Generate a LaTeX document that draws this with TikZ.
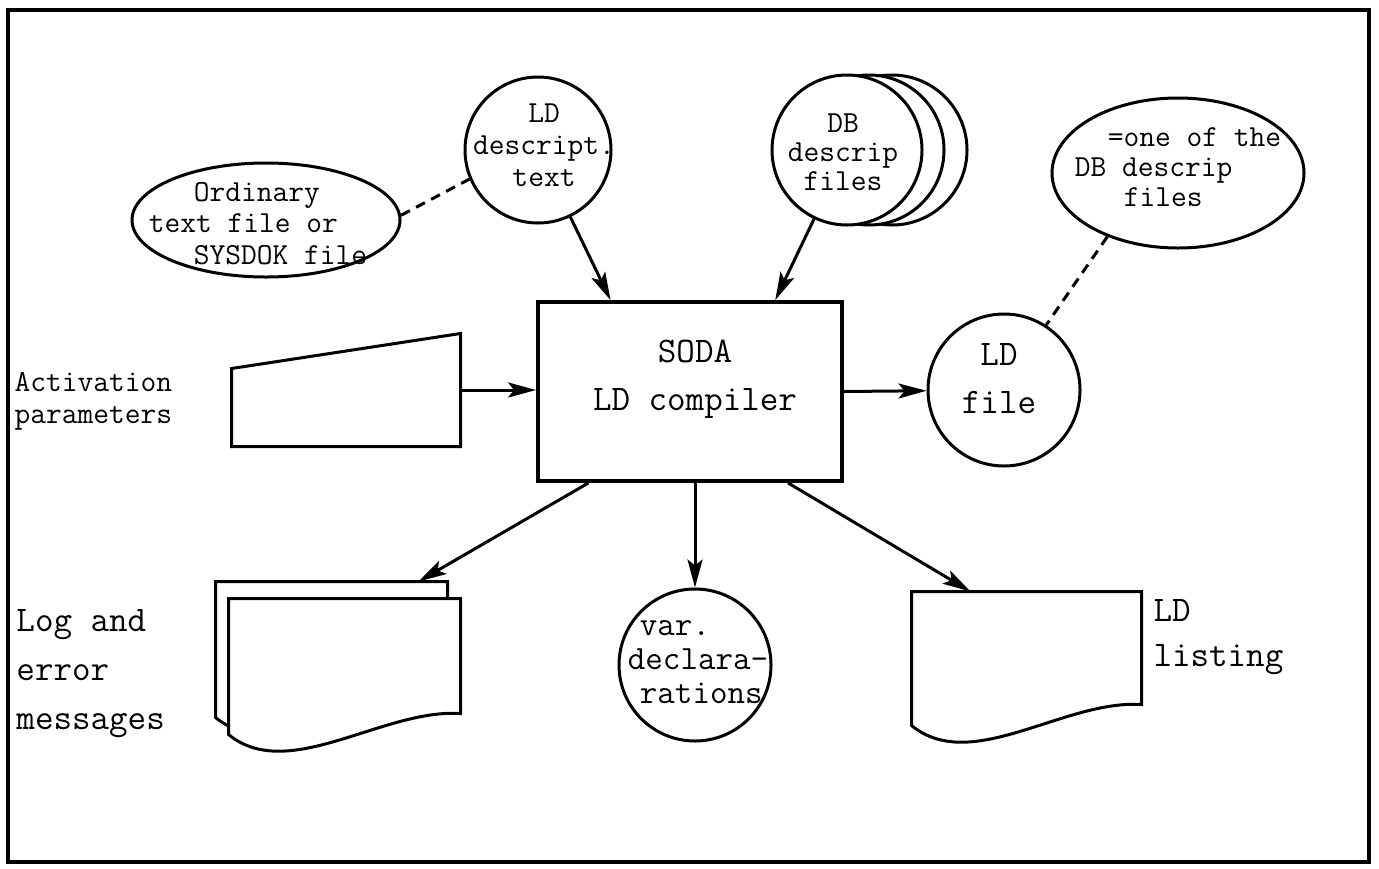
\documentclass[tikz,border=0pt]{standalone}
\usepackage{fontspec}
\usetikzlibrary{arrows.meta,positioning,shapes.geometric}
\newcommand{\docpage}[1]{%
  \draw[fill=white] (#1.north west) -- (#1.north east) -- (#1.south east)
    .. controls +(-78,-5) and +(60,49) .. ([yshift=-10.5pt]#1.south west)
    -- cycle;}

\begin{document}
\begin{tikzpicture}[x=0.5pt, y=-0.5pt, line width=1.5pt,
  bigtext/.style={font=\ttfamily\fontsize{18}{#1}\selectfont},
  bigtext/.default=24,
  smalltext/.style={font=\ttfamily\fontsize{15.3}{#1}\selectfont},
  smalltext/.default=16,
  disc/.style={circle, draw, fill=white, inner sep=0pt},
  oval/.style={ellipse, draw, fill=white, inner sep=0pt},
  page/.style={rectangle, inner sep=0pt, minimum width=114.5pt,
    minimum height=56pt},
  arr/.style={-{Stealth[length=14pt,width=7.5pt,inset=3pt]}},
  link/.style={dash pattern=on 5pt off 3.5pt}]
\useasboundingbox (0,0) rectangle (1379,868);
\draw[line width=1.6pt] (8,10) rectangle (1369,862);

\node[draw, line width=1.9pt, inner sep=0pt, minimum width=152pt,
  minimum height=89.5pt,
  label={[bigtext, align=center, xshift=2.5pt, yshift=6.25pt]center:{SODA\\LD compiler}}]
  (box) at (690,391.5) {};

\node[disc, minimum size=73pt,
  label={[smalltext, align=center, xshift=3pt, yshift=2.5pt]center:{LD\\descript.\\text}}]
  (ldtext) at (538,150) {};
\node[oval, minimum width=134pt, minimum height=57pt,
  label={[smalltext=15.75, align=left, xshift=-4pt, yshift=-1.75pt]center:{\hspace*{22.5pt}Ordinary\\text file or\\\hspace*{22.5pt}SYSDOK file}}]
  (ord) at (266,220) {};

\node[disc, minimum size=75pt] (dbback2) at (892,150) {};
\node[disc, minimum size=75pt] (dbback1) at (869,150) {};
\node[disc, minimum size=75pt,
  label={[smalltext=14.5, align=center, xshift=-2pt, yshift=-1pt]center:{DB\\descrip\\files}}]
  (dbfiles) at (847,150) {};

\node[oval, minimum width=126pt, minimum height=75pt,
  label={[smalltext=15, align=left, yshift=3pt]center:{\hspace*{16.5pt}=one of the\\DB descrip\\\hspace*{24.5pt}files}}]
  (oneof) at (1178,173) {};

\node[disc, minimum size=76pt,
  label={[bigtext, align=center, xshift=-2.5pt, yshift=5.5pt]center:{LD\\file}}]
  (ldfile) at (1004,390) {};

\node[rectangle, inner sep=0pt, minimum width=113pt, minimum height=55pt]
  (actin) at (346,390) {};
\draw (actin.south west) -- (actin.south east) -- (actin.north east)
  -- ([yshift=-17.5pt]actin.north west) -- cycle;
\node[smalltext, align=left, anchor=west, inner sep=0pt] (actlabel)
  at (13,401) {Activation\\parameters};

\node[page] (logback) at (331.5,639) {};
\node[page] (logfront) at (344.5,656) {};
\docpage{logback}
\docpage{logfront}
\node[bigtext=24.5, align=left, anchor=west, inner sep=0pt] (loglabel)
  at (15,674) {Log and\\error\\messages};

\node[disc, minimum size=76pt,
  label={[font=\ttfamily\fontsize{17}{17}\selectfont, align=left, xshift=1.5pt, yshift=1.25pt]center:{\hspace*{6pt}var.\\declara-\\\hspace*{6pt}rations}}]
  (var) at (695,665) {};

\node[page, minimum width=113.5pt, minimum height=55pt] (listing)
  at (1026.5,648) {};
\docpage{listing}
\node[bigtext=22.5, align=left, anchor=west, inner sep=0pt] (listlabel)
  at (1152,637.5) {LD\\listing};

\draw[arr] (ldtext) -- (box.131);
\draw[arr] (dbfiles) -- (box.47);
\draw[arr] (actin.east) -- (actin.east -| box.west);
\draw[arr] (box.east) -- (ldfile);
\draw[arr] (box.222) -- ([xshift=-14.5pt]logback.north east);
\draw[arr] (box.south -| var.north) -- (var.north);
\draw[arr] (box.317) -- ([xshift=-28pt]listing.north);
\draw[link] (ord.2) -- (ldtext.203);
\draw[link] (oneof.222) -- (ldfile.57);
\end{tikzpicture}
\end{document}
